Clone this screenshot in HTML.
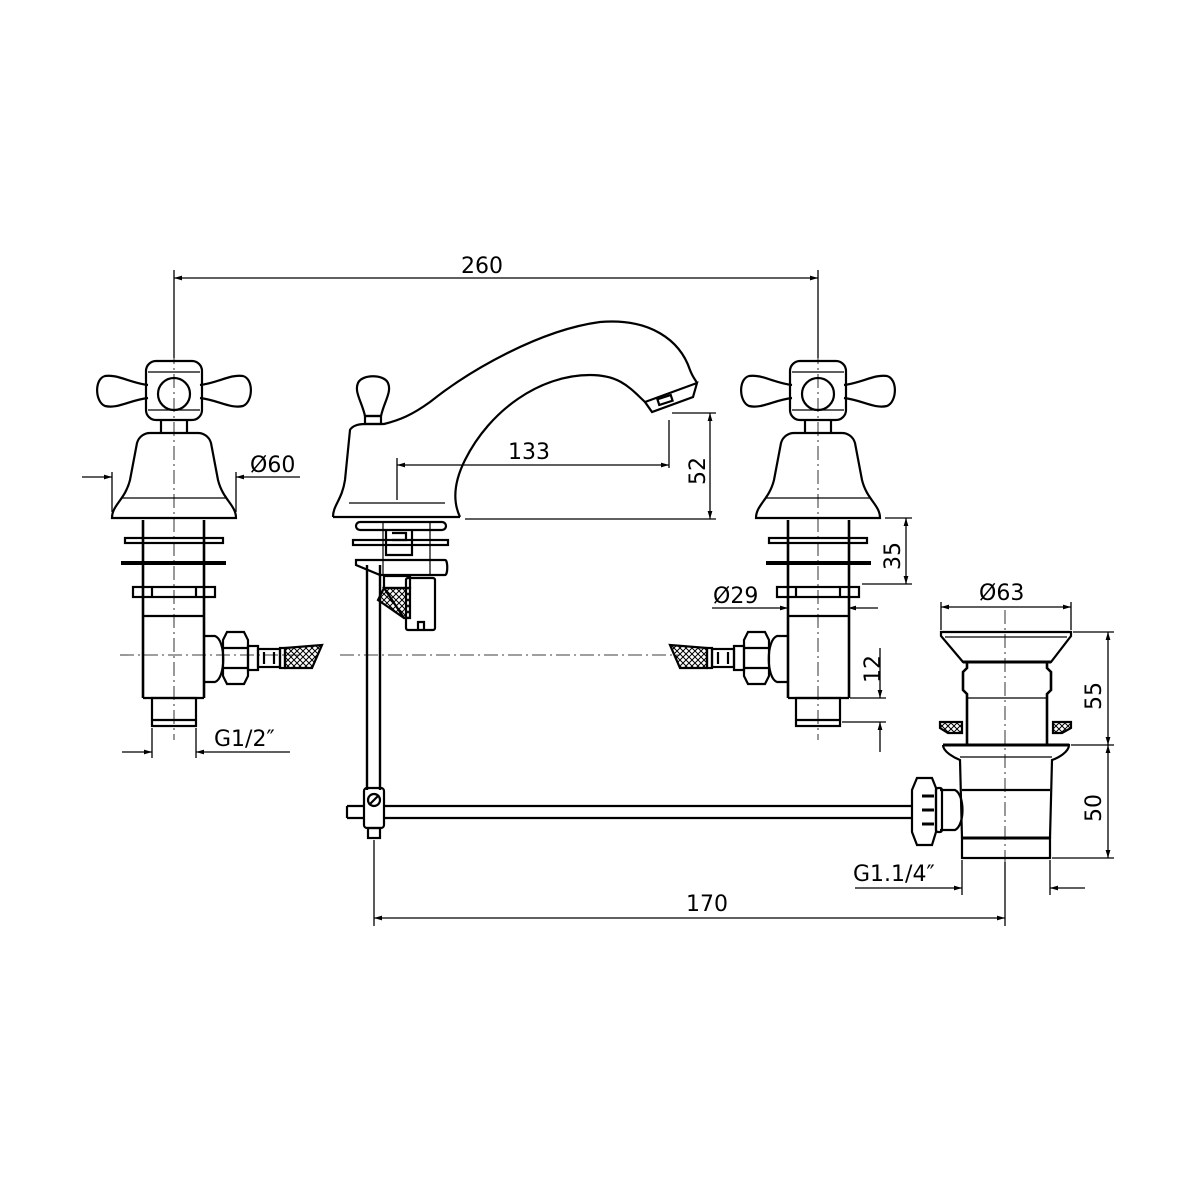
<!DOCTYPE html>
<html><head><meta charset="utf-8"><style>
html,body{margin:0;padding:0;background:#fff;}
svg{display:block;}
text{font-family:"DejaVu Sans","Liberation Sans",sans-serif;font-size:22px;fill:#000;}
</style></head><body>
<svg width="1200" height="1200" viewBox="0 0 1200 1200" xmlns="http://www.w3.org/2000/svg">
<defs>
<marker id="a" viewBox="0 0 10 10" refX="10" refY="5" markerWidth="10" markerHeight="8" orient="auto-start-reverse" markerUnits="userSpaceOnUse"><path d="M0,2 L10,5 L0,8 z" fill="#000"/></marker>
<pattern id="h" width="6" height="6" patternUnits="userSpaceOnUse"><path d="M0,0 L6,6 M6,0 L0,6" stroke="#000" stroke-width="1"/></pattern>
<g id="valve" fill="none" stroke="#000" stroke-width="2.2">
  <!-- handle arms -->
  <path d="M148,385 C130,383 118,374 105,376 C94,379 95,402 105,406 C118,409 130,400 148,398"/>
  <path d="M200,385 C218,383 230,374 243,376 C254,379 253,402 243,406 C230,409 218,400 200,398"/>
  <rect x="146" y="361" width="56" height="59" rx="10"/>
  <line x1="148" y1="372" x2="200" y2="372" stroke-width="1.2"/>
  <line x1="148" y1="410" x2="200" y2="410" stroke-width="1.2"/>
  <circle cx="174" cy="394" r="16"/>
  <path d="M161,420 L161,433 M187,420 L187,433"/>
  <!-- bell -->
  <path d="M112,518 C112,505 125,500 130,480 L137,443 C139,436 145,433 150,433 L198,433 C203,433 209,436 211,443 L218,480 C223,500 236,505 236,518 Z"/>
  <line x1="121" y1="498" x2="227" y2="498" stroke-width="1.2"/>
  <!-- stem -->
  <path d="M143,520 L143,698 M204,520 L204,698" stroke-width="2.6"/>
  <rect x="125" y="538" width="98" height="5"/>
  <line x1="121" y1="563" x2="226" y2="563" stroke-width="4"/>
  <rect x="133" y="587" width="82" height="10"/>
  <line x1="152" y1="587" x2="152" y2="597"/><line x1="196" y1="587" x2="196" y2="597"/>
  <line x1="143" y1="616" x2="204" y2="616"/>
  <line x1="143" y1="698" x2="204" y2="698"/>
  <rect x="152" y="698" width="44" height="28"/>
  <line x1="152" y1="720" x2="196" y2="720"/>
  <!-- side connection -->
  <path d="M204,636 L215,636 C226,640 226,678 215,682 L204,682"/>
  <path d="M227,632 L244,632 L248,640 L248,676 L244,684 L227,684 L223,676 L223,640 Z"/>
  <line x1="223" y1="648" x2="248" y2="648"/><line x1="223" y1="668" x2="248" y2="668"/>
  <rect x="248" y="646" width="10" height="24"/>
  <rect x="258" y="649" width="22" height="18"/>
  <line x1="264" y1="652" x2="264" y2="664"/><line x1="274" y1="652" x2="274" y2="664"/>
  <rect x="280" y="648" width="5" height="20"/>
  <path d="M285,648 L322,645 L312,668 L285,668 Z" fill="url(#h)"/>
</g>
</defs>

<g stroke="#000" stroke-width="0.8" fill="none" stroke-dasharray="14,4,2,4">
  <line x1="174" y1="350" x2="174" y2="740"/>
  <line x1="818" y1="350" x2="818" y2="740"/>
  <line x1="340" y1="655" x2="680" y2="655"/>
  <line x1="120" y1="655" x2="300" y2="655"/>
  <line x1="1005" y1="610" x2="1005" y2="890"/>
</g>

<use href="#valve"/>
<use href="#valve" transform="translate(992,0) scale(-1,1)"/>

<!-- spout -->
<g fill="none" stroke="#000" stroke-width="2.2">
  <path d="M333,517 C333,505 342,500 345,480 L350,430 C352,426 358,424 365,424 L384,424 C400,420 412,415 430,402 C470,370 540,330 600,322 C650,318 680,340 690,370 C693,378 697,382 697,383"/>
  <path d="M697,383 L693,397 L652,412 L645,402 Z"/>
  <rect x="658" y="397" width="14" height="6" transform="rotate(-18 665 400)"/>
  <path d="M645,402 C630,388 620,375 590,375 C540,375 490,410 465,460 C455,480 452,500 460,517"/>
  <line x1="333" y1="517" x2="460" y2="517"/>
  <line x1="349" y1="503" x2="445" y2="503" stroke-width="1.2"/>
  <!-- knob -->
  <path d="M365,416 C362,402 354,392 358,383 C362,374 384,374 388,383 C392,392 384,402 381,416 Z"/>
  <rect x="365" y="416" width="16" height="8"/>
  <!-- mechanism -->
  <rect x="356" y="522" width="90" height="8" rx="4"/>
  <rect x="353" y="540" width="95" height="5"/>
  <path d="M386,530 L386,555 L412,555 L412,530 M392,533 L406,533 L406,540 L392,540"/>
  <path d="M356,560 L445,560 C448,560 448,575 445,575 L380,575 L356,565 Z"/>
  <rect x="384" y="576" width="26" height="12"/>
  <path d="M384,588 L410,588 L410,618 L404,618 Z M384,588 L378,600 L404,618" fill="url(#h)"/>
  <rect x="406" y="578" width="29" height="52" rx="2"/>
  <path d="M418,630 L418,622 L424,622 L424,630"/>
  <line x1="383" y1="522" x2="383" y2="575" stroke-width="1.2"/>
  <line x1="430" y1="522" x2="430" y2="575" stroke-width="1.2"/>
  <!-- rod -->
  <path d="M367,565 L367,790 M380,565 L380,790" stroke-width="2.4"/>
  <rect x="364" y="788" width="20" height="40" rx="3"/>
  <circle cx="374" cy="800" r="6"/><line x1="369" y1="805" x2="379" y2="795"/>
  <rect x="368" y="828" width="12" height="10"/>
  <path d="M347,806 L364,806 M347,818 L364,818 M347,806 L347,818 M384,806 L912,806 M384,818 L912,818"/>
</g>

<!-- waste -->
<g fill="none" stroke="#000" stroke-width="2.2">
  <path d="M941,632 L1071,632 L1071,636 L1051,662 L963,662 L941,636 Z"/>
  <line x1="945" y1="637" x2="1067" y2="637" stroke-width="1.2"/>
  <line x1="963" y1="662" x2="1051" y2="662" stroke-width="3"/>
  <path d="M967,662 L967,668 L963,672 L963,690 L967,694 L967,745 M1047,662 L1047,668 L1051,672 L1051,690 L1047,694 L1047,745" stroke-width="2.6"/>
  <line x1="967" y1="698" x2="1047" y2="698" stroke-width="1.2"/>
  <path d="M940,722 L962,722 L962,733 L948,733 L940,728 Z M1053,722 L1071,722 L1071,728 L1062,733 L1053,733 Z" fill="url(#h)"/>
  <path d="M943,745 L1069,745 C1069,752 1058,758 1052,760 L1050,838 M943,745 C943,752 955,758 960,760 L962,838" />
  <line x1="943" y1="745" x2="1069" y2="745" stroke-width="3"/>
  <line x1="960" y1="757" x2="1052" y2="757" stroke-width="1.2"/>
  <line x1="962" y1="790" x2="1050" y2="790"/>
  <line x1="962" y1="838" x2="1050" y2="838" stroke-width="3"/>
  <rect x="962" y="838" width="88" height="20"/>
  <path d="M940,790 L955,790 C965,795 965,825 955,830 L940,830"/>
  <rect x="936" y="788" width="6" height="44" rx="2"/>
  <path d="M917,778 L932,778 L936,788 L936,832 L932,845 L917,845 L912,832 L912,790 Z"/>
  <path d="M922,796 L934,796 M922,810 L934,810 M922,824 L934,824" stroke-width="3"/>
</g>

<!-- dimensions -->
<g stroke="#000" stroke-width="1.3" fill="none">
  <line x1="174" y1="270" x2="174" y2="358"/>
  <line x1="818" y1="270" x2="818" y2="358"/>
  <line x1="174" y1="278" x2="818" y2="278" marker-start="url(#a)" marker-end="url(#a)"/>
  <!-- Ø60 -->
  <line x1="112" y1="472" x2="112" y2="512"/><line x1="236" y1="472" x2="236" y2="512"/>
  <line x1="82" y1="477" x2="112" y2="477" marker-end="url(#a)"/>
  <line x1="300" y1="477" x2="236" y2="477" marker-end="url(#a)"/>
  <!-- G1/2 -->
  <line x1="152" y1="728" x2="152" y2="758"/><line x1="196" y1="728" x2="196" y2="758"/>
  <line x1="122" y1="752" x2="152" y2="752" marker-end="url(#a)"/>
  <line x1="290" y1="752" x2="196" y2="752" marker-end="url(#a)"/>
  <!-- 133 -->
  <line x1="397" y1="458" x2="397" y2="500"/>
  <line x1="669" y1="420" x2="669" y2="468"/>
  <line x1="397" y1="465" x2="669" y2="465" marker-start="url(#a)" marker-end="url(#a)"/>
  <!-- 52 -->
  <line x1="465" y1="519" x2="716" y2="519"/>
  <line x1="672" y1="413" x2="716" y2="413"/>
  <line x1="710" y1="413" x2="710" y2="519" marker-start="url(#a)" marker-end="url(#a)"/>
  <!-- 35 -->
  <line x1="885" y1="518" x2="912" y2="518"/>
  <line x1="862" y1="584" x2="912" y2="584"/>
  <line x1="906" y1="518" x2="906" y2="584" marker-start="url(#a)" marker-end="url(#a)"/>
  <!-- Ø29 -->
  <line x1="712" y1="608" x2="788" y2="608" marker-end="url(#a)"/>
  <line x1="878" y1="608" x2="848" y2="608" marker-end="url(#a)"/>
  <!-- 12 -->
  <line x1="850" y1="698" x2="886" y2="698"/>
  <line x1="842" y1="722" x2="886" y2="722"/>
  <line x1="880" y1="648" x2="880" y2="698" marker-end="url(#a)"/>
  <line x1="880" y1="752" x2="880" y2="722" marker-end="url(#a)"/>
  <!-- Ø63 -->
  <line x1="941" y1="602" x2="941" y2="630"/><line x1="1071" y1="602" x2="1071" y2="630"/>
  <line x1="941" y1="607" x2="1071" y2="607" marker-start="url(#a)" marker-end="url(#a)"/>
  <!-- 55 / 50 -->
  <line x1="1073" y1="632" x2="1114" y2="632"/>
  <line x1="1071" y1="745" x2="1114" y2="745"/>
  <line x1="1052" y1="858" x2="1114" y2="858"/>
  <line x1="1108" y1="632" x2="1108" y2="745" marker-start="url(#a)" marker-end="url(#a)"/>
  <line x1="1108" y1="745" x2="1108" y2="858" marker-start="url(#a)" marker-end="url(#a)"/>
  <!-- G1.1/4 -->
  <line x1="962" y1="860" x2="962" y2="895"/><line x1="1050" y1="860" x2="1050" y2="895"/>
  <line x1="855" y1="888" x2="962" y2="888" marker-end="url(#a)"/>
  <line x1="1085" y1="888" x2="1050" y2="888" marker-end="url(#a)"/>
  <!-- 170 -->
  <line x1="374" y1="840" x2="374" y2="926"/>
  <line x1="1005" y1="862" x2="1005" y2="926"/>
  <line x1="374" y1="918" x2="1005" y2="918" marker-start="url(#a)" marker-end="url(#a)"/>
</g>

<g>
  <text x="461" y="273">260</text>
  <text x="250" y="472">Ø60</text>
  <text x="214" y="746">G1/2″</text>
  <text x="508" y="459">133</text>
  <text x="0" y="0" transform="translate(705,485) rotate(-90)">52</text>
  <text x="0" y="0" transform="translate(900,570) rotate(-90)">35</text>
  <text x="713" y="603">Ø29</text>
  <text x="0" y="0" transform="translate(880,683) rotate(-90)">12</text>
  <text x="979" y="600">Ø63</text>
  <text x="0" y="0" transform="translate(1101,710) rotate(-90)">55</text>
  <text x="0" y="0" transform="translate(1101,822) rotate(-90)">50</text>
  <text x="853" y="881">G1.1/4″</text>
  <text x="686" y="911">170</text>
</g>
</svg>
</body></html>
